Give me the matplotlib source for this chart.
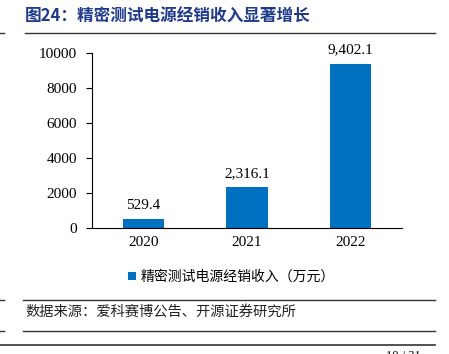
import matplotlib
matplotlib.use("Agg")
import matplotlib.pyplot as plt
from matplotlib.lines import Line2D

# data
years = ["2020", "2021", "2022"]
revenue = [529.4, 2316.1, 9402.1]
yticks = [0, 2000, 4000, 6000, 8000, 10000]

title = "图24：精密测试电源经销收入显著增长"
legend_label = "精密测试电源经销收入（万元）"
source = "数据来源：爱科赛博公告、开源证券研究所"

CJK = ["Noto Sans CJK SC", "DejaVu Sans"]
SERIF = "Liberation Serif"
BLUE = "#0070C0"

fig = plt.figure(figsize=(4.49, 3.54), dpi=100)
ax = fig.add_axes([0.205, 0.356, 0.69, 0.494])

x = range(len(years))
bars = ax.bar(x, revenue, width=0.4, color=BLUE, label=legend_label)
for xi, v in zip(x, revenue):
    ax.text(xi, v + 400, f"{v:,.1f}", ha="center", va="bottom",
            fontsize=11, family=SERIF)

ax.set_xlim(-0.5, 2.5)
ax.set_ylim(0, 10000)
ax.set_yticks(yticks)
ax.set_yticklabels([str(t) for t in yticks], family=SERIF, fontsize=11)
ax.set_xticks(list(x))
ax.set_xticklabels(years, family=SERIF, fontsize=11)
ax.tick_params(axis="x", length=0, pad=6)
ax.tick_params(axis="y", direction="out", length=4, width=0.8, pad=7)
for s in ["top", "right"]:
    ax.spines[s].set_visible(False)
ax.spines["left"].set_linewidth(0.8)
ax.spines["bottom"].set_linewidth(0.8)

leg = fig.legend(handles=[bars], labels=[legend_label], loc="center",
                 bbox_to_anchor=(0.515, 0.218), frameon=False,
                 prop={"family": CJK, "size": 10},
                 handlelength=0.6, handleheight=0.6, handletextpad=0.3)

# title and source decorations
fig.text(0.056, 0.952, title, color="#1F3A8A", fontsize=12, fontweight="bold",
         family=CJK, va="center")
H = 354.0
W = 449.0
def hline(y, x0, x1, lw=1.0):
    fig.add_artist(Line2D([x0 / W, x1 / W], [1 - y / H, 1 - y / H],
                          color="#333333", lw=lw))
hline(33, 25, 435)
hline(33, 0, 4)
hline(300, 23, 435)
hline(300, 0, 4)
hline(331, 23, 435)
hline(331, 0, 4)
hline(345, 0, 435, lw=1.2)
fig.text(0.056, 1 - 312 / H, source, fontsize=10.3, family=CJK,
         va="center", color="#222222")
fig.text(0.86, 1 - 356 / H, "10 / 31", fontsize=9, family=SERIF, va="center")

fig.savefig("out.png", dpi=100)
